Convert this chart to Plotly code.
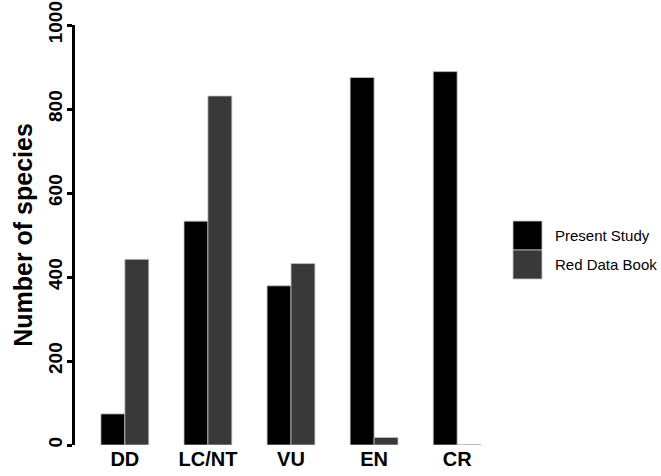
import plotly.graph_objects as go

categories = ["DD", "LC/NT", "VU", "EN", "CR"]
present_study = [74, 533, 379, 875, 889]
red_data_book = [442, 831, 432, 18, 1]
series_names = ["Present Study", "Red Data Book"]
series_colors = ["#000000", "#393939"]
y_ticks = [0, 200, 400, 600, 800, 1000]

W, H = 661, 476
L, R, T, B = 75, 154, 25, 31
pw, ph = W - L - R, H - T - B

def px_x(x):
    return (x - L) / pw

def px_y(y):
    return (H - B - y) / ph

FONT = "Liberation Sans, Arial, Helvetica, sans-serif"

fig = go.Figure()
for name, vals, col in zip(series_names, [present_study, red_data_book], series_colors):
    fig.add_trace(go.Bar(
        x=categories, y=vals, name=name,
        marker=dict(color=col, line=dict(color="#c4c4c4", width=0.8)),
        showlegend=False,
    ))

# manual legend (large square keys)
key_x0, key_x1 = 513, 542
key_rows = [(221, 250), (250, 279)]
for (y0, y1), name, col in zip(key_rows, series_names, series_colors):
    fig.add_shape(type="rect", xref="paper", yref="paper",
                  x0=px_x(key_x0), x1=px_x(key_x1), y0=px_y(y1), y1=px_y(y0),
                  fillcolor=col, line=dict(color="#c4c4c4", width=0.8))
    fig.add_annotation(xref="paper", yref="paper", x=px_x(553), y=px_y((y0 + y1) / 2),
                       text=name, showarrow=False, xanchor="left", yanchor="middle",
                       font=dict(family=FONT, size=15, color="#000000"))

fig.update_layout(
    width=W, height=H,
    margin=dict(l=L, r=R, t=T, b=B, autoexpand=False),
    paper_bgcolor="white", plot_bgcolor="white",
    barmode="group", bargap=0.424, bargroupgap=0,
    font=dict(family=FONT, color="#000000"),
    xaxis=dict(
        range=[-0.6, 4.6], showline=False, ticks="", showgrid=False, zeroline=False,
        tickfont=dict(family=FONT, size=20, color="#000000", weight="bold"),
        automargin=False,
    ),
    yaxis=dict(
        range=[0, 1000], tickvals=y_ticks, showgrid=False, zeroline=False,
        showline=True, linewidth=3, linecolor="#000000",
        ticks="outside", ticklen=5, tickwidth=3, tickcolor="#000000",
        tickangle=-90, ticklabelstandoff=-3,
        tickfont=dict(family=FONT, size=19, color="#000000", weight="bold"),
        title=dict(text="Number of species", standoff=6,
                   font=dict(family=FONT, size=25, color="#000000", weight="bold")),
        automargin=False,
    ),
)

fig.write_html("out.html")
